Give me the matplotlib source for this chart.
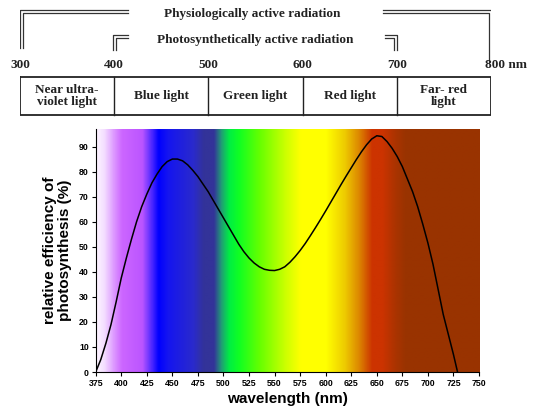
import numpy as np
import matplotlib.pyplot as plt
from matplotlib.colors import LinearSegmentedColormap, to_rgb

# curve (wavelength nm -> relative efficiency %)
wl = [375, 380, 385, 390, 395, 400, 405, 410, 415, 420, 425, 430, 435, 440, 445,
      450, 455, 460, 465, 470, 475, 480, 485, 490, 495, 500, 505, 510, 515, 520,
      525, 530, 535, 540, 545, 550, 555, 560, 565, 570, 575, 580, 585, 590, 595,
      600, 605, 610, 615, 620, 625, 630, 635, 640, 645, 650, 655, 660, 665, 670,
      675, 680, 685, 690, 695, 700, 705, 710, 715, 720, 725, 729]
eff = [0, 5, 11.5, 19, 28, 37.5, 45.5, 53, 60, 66, 71, 75.5, 79, 82, 84,
       85, 85, 84.3, 82.7, 80.5, 78, 75, 72, 68.5, 65, 61.5, 58, 54.5, 51, 48,
       45.5, 43.5, 42, 41, 40.6, 40.5, 41, 42, 43.8, 46, 48.5, 51.3, 54.4, 57.6, 60.9,
       64.3, 67.8, 71.3, 74.8, 78.2, 81.5, 84.8, 87.9, 90.7, 93, 94.3, 94, 92, 89.3, 86,
       82, 77, 72, 66, 59, 51.5, 43, 33, 23, 15, 7, 0]

# spectrum colour stops
stop_nm = [375, 383, 392, 400, 420, 427, 436, 445, 470, 480, 490, 497, 505, 515,
           535, 560, 575, 600, 618, 632, 645, 655, 668, 678, 750]
stop_col = ['#fdf5ff', '#f3dcff', '#dd99ff', '#cc66ff', '#bb55ff', '#6633ff', '#0000ff',
            '#1515f0', '#2a2acc', '#333399', '#333399', '#229977', '#00ee44', '#11ff22',
            '#66ff00', '#ccff00', '#ffff00', '#ffff00', '#eecc00', '#dd8800', '#cc3300',
            '#cc3300', '#aa3300', '#993300', '#993300']

x_ticks = list(range(375, 751, 25))
y_ticks = list(range(0, 91, 10))

# top diagram
scale_nm = [300, 400, 500, 600, 700, 800]
bands = ['Near ultra-\nviolet light', 'Blue light', 'Green light', 'Red light', 'Far- red\nlight']

fig = plt.figure(figsize=(5.5, 4.11), dpi=100)

# ---- top diagram ----
at = fig.add_axes([20/550, 1-125/411, 471/550, 125/411])
at.set_xlim(300, 800)
at.set_ylim(125, 0)
at.axis('off')
serif = dict(family='Liberation Serif', weight='bold', fontsize=9.5, color='#222222')
lk = dict(color='#333333', lw=0.9)
d = 2.7  # spacing of the double lines (nm)
# physiologically active
at.plot([300, 300, 415], [48, 10, 10], **lk)
at.plot([300+d, 300+d, 415], [48, 12.8, 12.8], **lk)
at.plot([685, 801, 801], [10, 10, 62], **lk)
at.plot([685, 801-d, 801-d], [12.8, 12.8, 62], **lk)
# photosynthetically active
at.plot([399, 399, 415], [50, 35, 35], **lk)
at.plot([399+d, 399+d, 415], [50, 37.8, 37.8], **lk)
at.plot([687, 700, 700], [35, 35, 50], **lk)
at.plot([687, 700-d, 700-d], [37.8, 37.8, 50], **lk)
at.text(546, 14, 'Physiologically active radiation', ha='center', va='center', **serif)
at.text(550, 39.5, 'Photosynthetically active radiation', ha='center', va='center', **serif)
for v in scale_nm:
    lab = str(v) if v < 800 else '800 nm'
    at.text(v if v < 800 else 794, 65, lab, ha='center' if v < 800 else 'left',
            va='center', **serif)
at.plot([300, 800, 800, 300, 300], [77, 77, 115, 115, 77], color='#222222', lw=1.3)
for v in scale_nm[1:-1]:
    at.plot([v, v], [77, 115], color='#222222', lw=1.0)
for i, b in enumerate(bands):
    at.text((scale_nm[i] + scale_nm[i+1]) / 2, 96, b, ha='center', va='center',
            linespacing=1.0, **serif)

# ---- main chart ----
ax = fig.add_axes([95.7/550, 1-372/411, (479-95.7)/550, (372-129)/411])
span = stop_nm[-1] - stop_nm[0]
cmap = LinearSegmentedColormap.from_list(
    'spec', [((n - stop_nm[0]) / span, to_rgb(c)) for n, c in zip(stop_nm, stop_col)], N=512)
grad = np.linspace(0, 1, 800).reshape(1, -1)
ax.imshow(grad, cmap=cmap, extent=[375, 750, 0, 97], aspect='auto', interpolation='bilinear')
ax.plot(wl, eff, color='black', lw=1.1)
ax.set_xlim(375, 750)
ax.set_ylim(0, 97)
ax.set_xticks(x_ticks)
ax.set_yticks(y_ticks)
ax.tick_params(labelsize=6.3, length=3, width=0.8, pad=2)
for t in ax.get_xticklabels() + ax.get_yticklabels():
    t.set_fontweight('bold')
    t.set_family('Liberation Sans')
ax.spines['top'].set_visible(False)
ax.spines['right'].set_visible(False)
ax.set_xlabel('wavelength (nm)', fontsize=11, fontweight='bold', family='Liberation Sans', labelpad=3)
ax.set_ylabel('relative efficiency of\nphotosynthesis (%)', fontsize=11, fontweight='bold',
              family='Liberation Sans', labelpad=5, linespacing=1.1)

fig.savefig('out.png', dpi=100)
